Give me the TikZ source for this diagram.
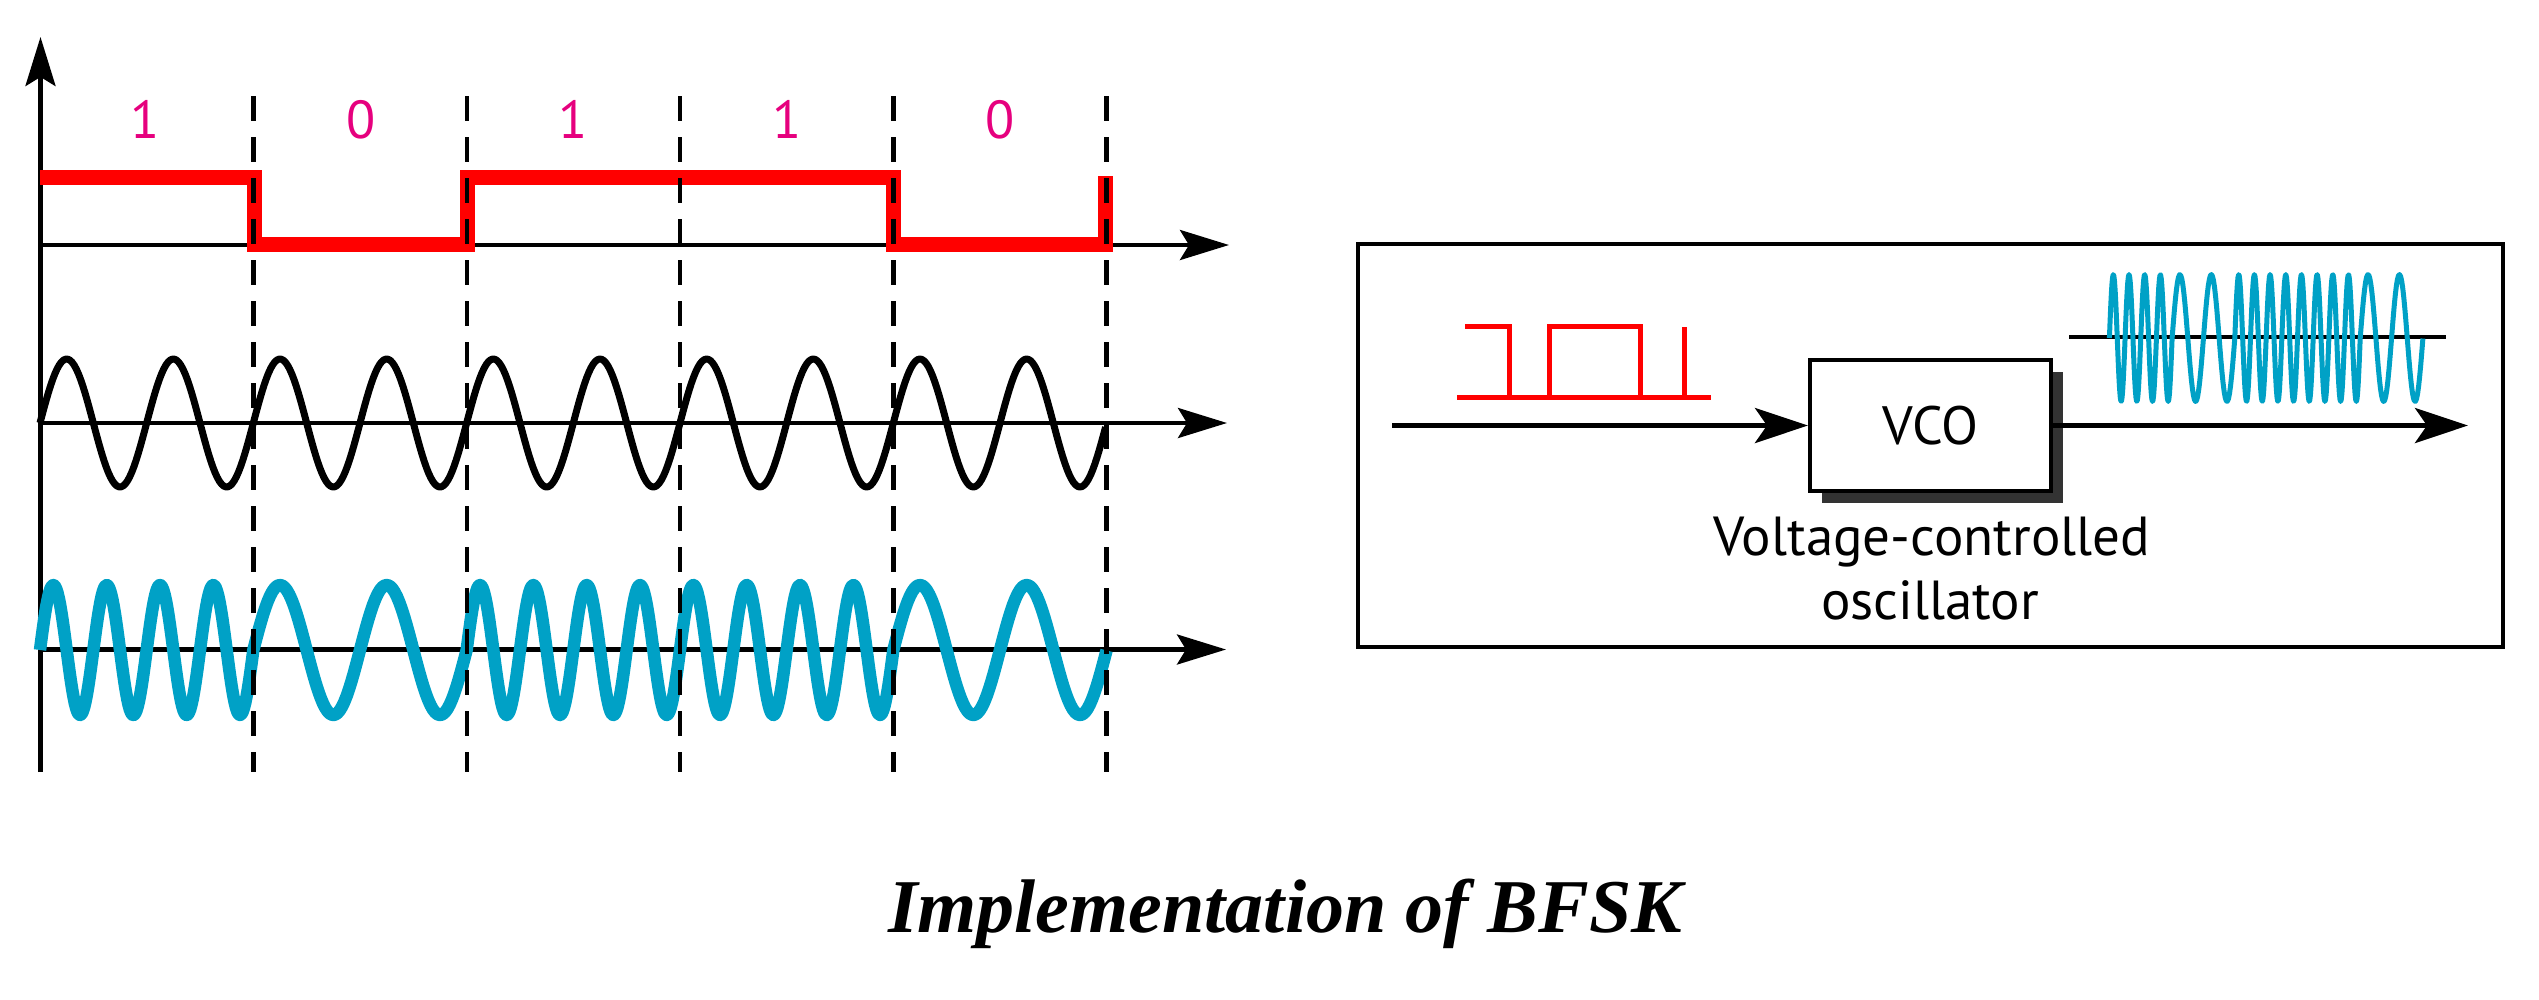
\documentclass[tikz,border=0pt]{standalone}
\usepackage{fontspec}
\newfontfamily\sansf{PT Sans}
\newfontfamily\seriff{Liberation Serif}
\usetikzlibrary{arrows.meta,shadows}
\definecolor{bitred}{RGB}{255,0,0}
\definecolor{bitmag}{RGB}{230,0,126}
\definecolor{fskblue}{RGB}{0,161,198}
\definecolor{shadowgray}{RGB}{51,51,51}
\begin{document}
\begin{tikzpicture}[x=1pt,y=-1pt,
  axisline/.style={line width=4.3pt,-{Stealth[length=49pt,width=30pt,inset=9pt]}},
  sigarrow/.style={line width=5pt,-{Stealth[length=53pt,width=35pt,inset=12pt]}},
  boundary/.style={line width=4.5pt,dash pattern=on 25pt off 16pt},
  redsig/.style={line width=15pt,color=bitred,line join=miter},
  carrier/.style={line width=7pt,line join=round},
  fskwave/.style={line width=12.5pt,color=fskblue,line join=round},
  smallred/.style={line width=5pt,color=bitred},
  smallblue/.style={line width=5pt,color=fskblue,line join=round},
  bitlabel/.style={text=bitmag,font=\sansf\fontsize{53.5}{60}\selectfont,anchor=base,inner sep=0pt},
  sanslabel/.style={font=\sansf\fontsize{55}{64}\selectfont,anchor=base,inner sep=0pt},
]
\useasboundingbox (0,0) rectangle (2539,999);
% ---------- left: axes ----------
\coordinate (vbot) at (40.5,772);
\coordinate (vtop) at (40.5,37);
\coordinate (a1s) at (40.5,245);
\coordinate (a1e) at (1229,245);
\coordinate (a2s) at (40.5,423);
\coordinate (a2e) at (1227,423);
\coordinate (a3s) at (40.5,649.5);
\coordinate (a3e) at (1226,649.5);
\draw[axisline] (vbot) -- (vtop);
\draw[axisline] (a1s) -- (a1e);
\draw[axisline] (a2s) -- (a2e);
\draw[axisline] (a3s) -- (a3e);
% bit labels
\node[bitlabel] (b1) at (145.5,138.3) {1};
\node[bitlabel] (b2) at (361,138.3) {0};
\node[bitlabel] (b3) at (573.3,138.3) {1};
\node[bitlabel] (b4) at (786.7,138.3) {1};
\node[bitlabel] (b5) at (1000,138.3) {0};
% red digital signal
\draw[redsig] (40,177) -- (254.5,177) -- (254.5,244) -- (467,244) -- (467,177)
  -- (893.3,177) -- (893.3,244) -- (1105,244) -- (1105,176);
% carrier
\draw[carrier] plot[domain=0:5,samples=500] ({40+213.33*\x},{423-64*sin(720*\x)});
% FSK wave
\draw[fskwave] plot[domain=0:1,samples=160] ({40+213.33*\x},{650-65*sin(1440*\x)})
  -- plot[domain=1:2,samples=90] ({40+213.33*\x},{650-65*sin(720*(\x-1))})
  -- plot[domain=2:4,samples=320] ({40+213.33*\x},{650-65*sin(1440*(\x-2))})
  -- plot[domain=4:5,samples=90] ({40+213.33*\x},{650-65*sin(720*(\x-4))});
% dashed bit boundaries
\foreach \k in {1,...,5}{
  \coordinate (dt\k) at ({40.5+213.2*\k},96);
  \coordinate (db\k) at ({40.5+213.2*\k},772);
  \draw[boundary] (dt\k) -- (db\k);
}
% ---------- right: VCO block ----------
\node[draw,line width=4pt,minimum width=1145pt,minimum height=403pt,inner sep=0pt] (frame) at (1930.5,445.5) {};
% small red input signal
\coordinate (rb1) at (1457,397);
\coordinate (rb2) at (1711,397);
\draw[smallred] (rb1) -- (rb2);
\draw[smallred] (1465,326.7) -- (1509,326.7) -- (1509,397) -- (1549,397) -- (1549,326.7)
  -- (1640,326.7) -- (1640,397) -- (1684.3,397) -- (1684.3,326.7);
% small blue output signal
\coordinate (sb1) at (2069,337.3);
\coordinate (sb2) at (2446,337.3);
\draw[line width=4.3pt] (sb1) -- (sb2);
\draw[smallblue] plot[domain=0:1,samples=100] ({2109.4+62.7*\x},{338-63.5*sin(1440*\x)})
  -- plot[domain=1:2,samples=60] ({2109.4+62.7*\x},{338-63.5*sin(720*(\x-1))})
  -- plot[domain=2:4,samples=200] ({2109.4+62.7*\x},{338-63.5*sin(1440*(\x-2))})
  -- plot[domain=4:5,samples=60] ({2109.4+62.7*\x},{338-63.5*sin(720*(\x-4))});
% VCO
\node[draw,line width=4pt,fill=white,minimum width=241pt,minimum height=131pt,inner sep=0pt,
  drop shadow={shadow xshift=12pt,shadow yshift=-12pt,fill=shadowgray,opacity=1},
  font=\sansf\fontsize{54}{60}\selectfont] (vco) at (1930.5,425.5) {VCO};
\coordinate (vin) at (1392,425.5);
\coordinate (vout) at (2468,425.5);
\draw[sigarrow] (vin) -- (vco.west);
\draw[sigarrow] (vco.east) -- (vout);
\node[sanslabel] (vc1) at (1932,555) {Voltage-controlled};
\node[sanslabel] (vc2) at (1930,619) {oscillator};
% ---------- title ----------
\node[font=\seriff\bfseries\itshape\fontsize{76}{80}\selectfont,anchor=base,inner sep=0pt] (title) at (1285,932) {Implementation of BFSK};
\end{tikzpicture}
\end{document}
